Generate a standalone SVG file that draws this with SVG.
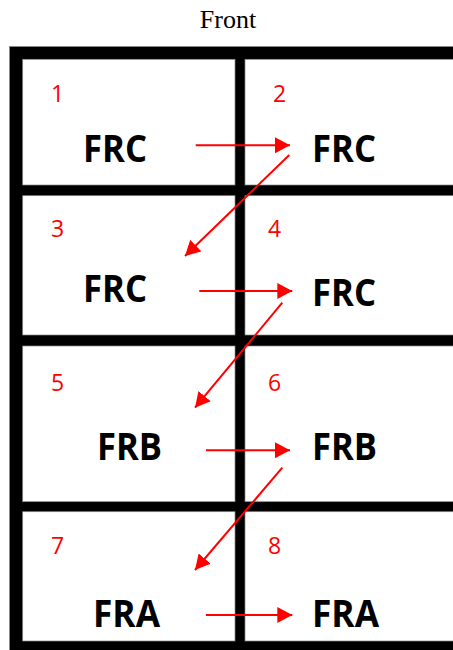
<svg xmlns="http://www.w3.org/2000/svg" width="453" height="650" viewBox="0 0 453 650">
<style>
.cell{fill:#fff;stroke:#888;stroke-width:0.7}
.num{font-family:"Open Sans","Liberation Sans",sans-serif;font-size:23px;fill:#ff0000}
.lbl{font-family:"Open Sans","Liberation Sans",sans-serif;font-size:38px;font-weight:bold;fill:#000}
.conn{stroke:#ff0000;stroke-width:2;fill:none;marker-end:url(#ah)}
</style>
<defs>
<marker id="ah" markerUnits="userSpaceOnUse" markerWidth="16" markerHeight="16" refX="15" refY="8" orient="auto">
<path d="M0,0 L15,8 L0,16 z" fill="#ff0000"/>
</marker>
</defs>
<rect width="453" height="650" fill="#fff"/>
<text x="228" y="28" text-anchor="middle" font-family="Liberation Serif,serif" font-size="26" fill="#000">Front</text>
<rect x="9.5" y="46.5" width="460" height="620" fill="#000" stroke="#888" stroke-width="1"/>
<g id="cell1"><rect class="cell" x="22.7" y="59.3" width="212.3" height="125.7"/><text class="num" x="51" y="101.7">1</text><text class="lbl" x="83" y="161.7" textLength="64" lengthAdjust="spacingAndGlyphs">FRC</text></g>
<g id="cell2"><rect class="cell" x="245" y="59.3" width="215" height="125.7"/><text class="num" x="273" y="101.7">2</text><text class="lbl" x="312" y="161.7" textLength="64" lengthAdjust="spacingAndGlyphs">FRC</text></g>
<g id="cell3"><rect class="cell" x="22.7" y="195.7" width="212.3" height="139.3"/><text class="num" x="51" y="236.7">3</text><text class="lbl" x="83" y="302.3" textLength="64" lengthAdjust="spacingAndGlyphs">FRC</text></g>
<g id="cell4"><rect class="cell" x="245" y="195.7" width="215" height="139.3"/><text class="num" x="268" y="236.7">4</text><text class="lbl" x="312" y="305.7" textLength="64" lengthAdjust="spacingAndGlyphs">FRC</text></g>
<g id="cell5"><rect class="cell" x="22.7" y="346" width="212.3" height="155.7"/><text class="num" x="51" y="390.5">5</text><text class="lbl" x="97" y="460" textLength="65" lengthAdjust="spacingAndGlyphs">FRB</text></g>
<g id="cell6"><rect class="cell" x="245" y="346" width="215" height="155.7"/><text class="num" x="268" y="390.5">6</text><text class="lbl" x="312" y="459.5" textLength="65" lengthAdjust="spacingAndGlyphs">FRB</text></g>
<g id="cell7"><rect class="cell" x="22.7" y="511.7" width="212.3" height="129.3"/><text class="num" x="51" y="554">7</text><text class="lbl" x="93" y="627.3" textLength="67" lengthAdjust="spacingAndGlyphs">FRA</text></g>
<g id="cell8"><rect class="cell" x="245" y="511.7" width="215" height="129.3"/><text class="num" x="268" y="554">8</text><text class="lbl" x="312" y="627.3" textLength="67" lengthAdjust="spacingAndGlyphs">FRA</text></g>
<g id="connectors">
<line class="conn" x1="195.7" y1="145.3" x2="290" y2="145.3"/>
<line class="conn" x1="289.3" y1="155" x2="185" y2="256"/>
<line class="conn" x1="199.3" y1="291" x2="292.3" y2="291"/>
<line class="conn" x1="282.3" y1="302.7" x2="195" y2="407.7"/>
<line class="conn" x1="206" y1="450.3" x2="290" y2="450.3"/>
<line class="conn" x1="282.3" y1="467.7" x2="195" y2="570"/>
<line class="conn" x1="206" y1="615" x2="292.3" y2="615"/>
</g>
</svg>
